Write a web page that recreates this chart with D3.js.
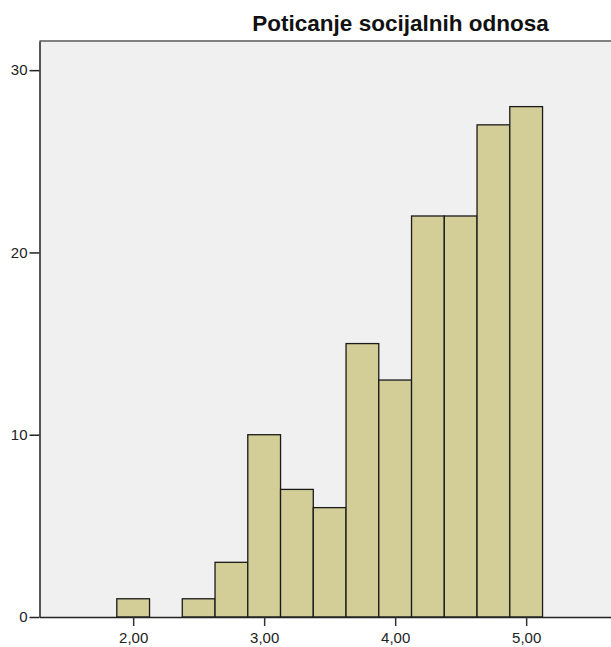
<!DOCTYPE html>
<html><head><meta charset="utf-8">
<script src="https://cdn.jsdelivr.net/npm/d3@7"></script>
<style>body{margin:0;background:#fff;} text{font-family:"Liberation Sans",Arial,sans-serif;}</style>
</head><body>
<svg id="c" width="611" height="647"></svg>
<script>
const title = "Poticanje socijalnih odnosa";
const binCenters = [2.00, 2.50, 2.75, 3.00, 3.25, 3.50, 3.75, 4.00, 4.25, 4.50, 4.75, 5.00];
const counts     = [1, 1, 3, 10, 7, 6, 15, 13, 22, 22, 27, 28];
const binWidth = 0.25;
const xTicks = [2, 3, 4, 5];
const yTicks = [0, 10, 20, 30];

(function () {
const svg = d3.select("#c");
const mLeft = 39.5, mTop = 41, mBottom = 617;
const xDomain = [1.285, 5.9], pxPerUnit = 131;
const mRight = mLeft + (xDomain[1] - xDomain[0]) * pxPerUnit;
const x = d3.scaleLinear().domain(xDomain).range([mLeft, mRight]);
const y = d3.scaleLinear().domain([0, 31.6]).range([mBottom, mTop]);

// plot background
svg.append("rect").attr("x", mLeft).attr("y", mTop).attr("width", mRight - mLeft).attr("height", mBottom - mTop)
  .attr("fill", "#f0f0f0");
// top frame line
svg.append("line").attr("x1", mLeft).attr("x2", mRight).attr("y1", mTop).attr("y2", mTop)
  .attr("stroke", "#808080").attr("stroke-width", 2);

// bars
svg.append("g").selectAll("rect").data(binCenters).join("rect")
  .attr("x", d => x(d - binWidth / 2))
  .attr("width", d => x(d + binWidth / 2) - x(d - binWidth / 2))
  .attr("y", (d, i) => y(counts[i]))
  .attr("height", (d, i) => y(0) - y(counts[i]))
  .attr("fill", "#d3ce97").attr("stroke", "#1a1a1a").attr("stroke-width", 1.3);

// x axis
const fmt = d => d3.format(".2f")(d).replace(".", ",");
const xAxis = d3.axisBottom(x).tickValues(xTicks).tickFormat(fmt).tickSize(9).tickSizeOuter(0).tickPadding(6);
const gx = svg.append("g").attr("transform", `translate(0,${mBottom})`).call(xAxis);
gx.select(".domain").attr("stroke", "#222").attr("stroke-width", 1.5);
gx.selectAll(".tick line").attr("stroke", "#333").attr("stroke-width", 1.5);
gx.selectAll("text").attr("font-size", 15).attr("fill", "#222").attr("font-family", "Liberation Sans, Arial, sans-serif");

// y axis
const yAxis = d3.axisLeft(y).tickValues(yTicks).tickSize(10).tickSizeOuter(0).tickPadding(2);
const gy = svg.append("g").attr("transform", `translate(${mLeft},0)`).call(yAxis);
gy.select(".domain").attr("stroke", "#222").attr("stroke-width", 1.5);
gy.selectAll(".tick line").attr("stroke", "#222").attr("stroke-width", 1.5);
gy.selectAll("text").attr("font-size", 15).attr("fill", "#222").attr("font-family", "Liberation Sans, Arial, sans-serif");

// title
svg.append("text").attr("x", 400.5).attr("y", 31).attr("text-anchor", "middle")
  .attr("font-size", 22.5).attr("font-weight", "bold").attr("fill", "#111").text(title);
})();
</script>
</body></html>
